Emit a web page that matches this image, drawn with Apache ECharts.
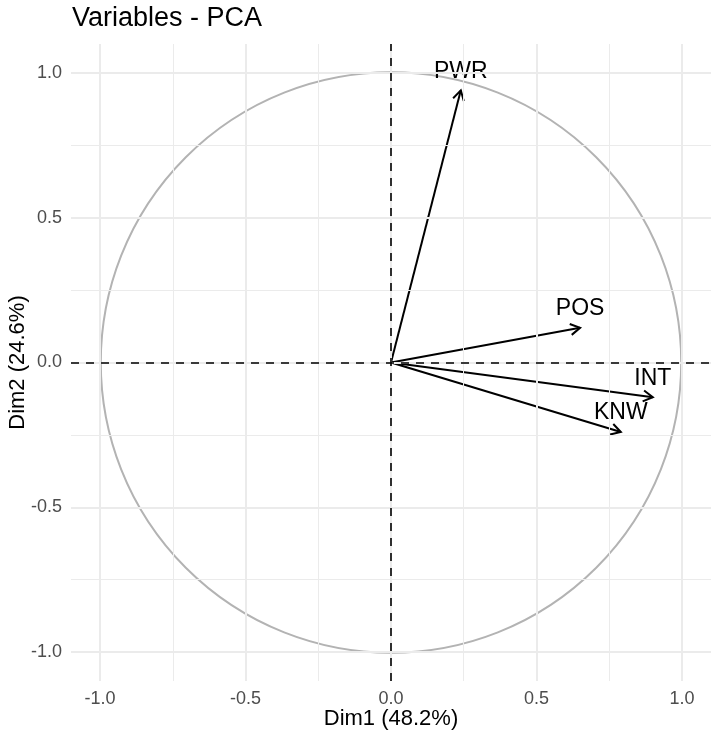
<!DOCTYPE html>
<html>
<head>
<meta charset="utf-8">
<script src="https://cdn.jsdelivr.net/npm/echarts@6/dist/echarts.min.js"></script>
<style>
  html, body { margin: 0; padding: 0; background: #fff; }
  #chart { width: 715px; height: 739px; }
</style>
</head>
<body>
<div id="chart"></div>
<script>
// loadings of the variables on the first two dimensions
const varNames = ['PWR', 'POS', 'INT', 'KNW'];
const dim1 = [0.24, 0.65, 0.90, 0.79];
const dim2 = [0.94, 0.12, -0.12, -0.24];

const tickValues = [-1, -0.5, 0, 0.5, 1];
const minorValues = [-0.75, -0.25, 0.25, 0.75];

const FONT = '"Liberation Sans", Arial, sans-serif';

const chart = echarts.init(document.getElementById('chart'));

const gridLines = [];
minorValues.forEach(v => {
  gridLines.push({ xAxis: v, lineStyle: { color: '#EBEBEB', width: 1, type: 'solid' } });
  gridLines.push({ yAxis: v, lineStyle: { color: '#EBEBEB', width: 1, type: 'solid' } });
});
tickValues.forEach(v => {
  gridLines.push({ xAxis: v, lineStyle: { color: '#EBEBEB', width: 2, type: 'solid' } });
  gridLines.push({ yAxis: v, lineStyle: { color: '#EBEBEB', width: 2, type: 'solid' } });
});

const axisCommon = {
  type: 'value',
  min: -1.1,
  max: 1.1,
  nameLocation: 'middle',
  nameMoveOverlap: false,
  nameTextStyle: { color: '#000', fontSize: 22, fontFamily: FONT },
  axisLine: { show: false },
  axisTick: { show: true, length: 5, customValues: tickValues, lineStyle: { color: '#333', width: 2 } },
  axisLabel: {
    customValues: tickValues,
    margin: 9,
    color: '#4D4D4D',
    fontSize: 18,
    fontFamily: FONT,
    formatter: v => v.toFixed(1)
  },
  splitLine: { show: false }
};

const option = {
  animation: false,
  title: {
    text: 'Variables - PCA',
    left: 67,
    top: 0,
    textStyle: { color: '#000', fontSize: 27, fontWeight: 'normal', fontFamily: FONT }
  },
  grid: { left: 71, right: 4, top: 44, bottom: 58, containLabel: false, outerBoundsMode: 'none' },
  xAxis: Object.assign({}, axisCommon, { name: 'Dim1 (48.2%)', nameGap: 27 }),
  yAxis: Object.assign({}, axisCommon, { name: 'Dim2 (24.6%)', nameGap: 42, nameRotate: 90 }),
  series: [
    {
      // background grid
      type: 'line',
      data: [],
      z: 0,
      markLine: { silent: true, symbol: 'none', label: { show: false }, animation: false, data: gridLines }
    },
    {
      // unit circle
      type: 'custom',
      z: 1,
      silent: true,
      data: [[0, 0, 1]],
      renderItem: function (params, api) {
        const c = api.coord([api.value(0), api.value(1)]);
        const s = api.size([api.value(2), api.value(2)]);
        return {
          type: 'circle',
          shape: { cx: c[0], cy: c[1], r: (s[0] + s[1]) / 2 },
          style: { fill: 'none', stroke: '#B3B3B3', lineWidth: 2 }
        };
      }
    },
    {
      // zero lines
      type: 'line',
      data: [],
      z: 2,
      markLine: {
        silent: true,
        symbol: 'none',
        label: { show: false },
        animation: false,
        lineStyle: { color: '#000', width: 1.6, type: [8, 7] },
        data: [{ xAxis: 0 }, { yAxis: 0 }]
      }
    },
    {
      // variable arrows
      type: 'custom',
      z: 3,
      clip: false,
      data: dim1.map((x, i) => [x, dim2[i]]),
      renderItem: function (params, api) {
        const o = api.coord([0, 0]);
        const p = api.coord([api.value(0), api.value(1)]);
        const ang = Math.atan2(p[1] - o[1], p[0] - o[0]);
        const L = 11, a = Math.PI / 6;
        const h1 = [p[0] - L * Math.cos(ang - a), p[1] - L * Math.sin(ang - a)];
        const h2 = [p[0] - L * Math.cos(ang + a), p[1] - L * Math.sin(ang + a)];
        return {
          type: 'group',
          children: [
            { type: 'line', shape: { x1: o[0], y1: o[1], x2: p[0], y2: p[1] }, style: { stroke: '#000', lineWidth: 2 } },
            { type: 'polyline', shape: { points: [h1, p, h2] }, style: { stroke: '#000', lineWidth: 2, fill: 'none' } },
            {
              type: 'text',
              x: p[0],
              y: p[1] - 19,
              style: {
                text: varNames[params.dataIndex],
                fill: '#000',
                fontSize: 23,
                fontFamily: FONT,
                align: 'center',
                verticalAlign: 'middle'
              }
            }
          ]
        };
      }
    }
  ]
};

chart.setOption(option);
</script>
</body>
</html>
